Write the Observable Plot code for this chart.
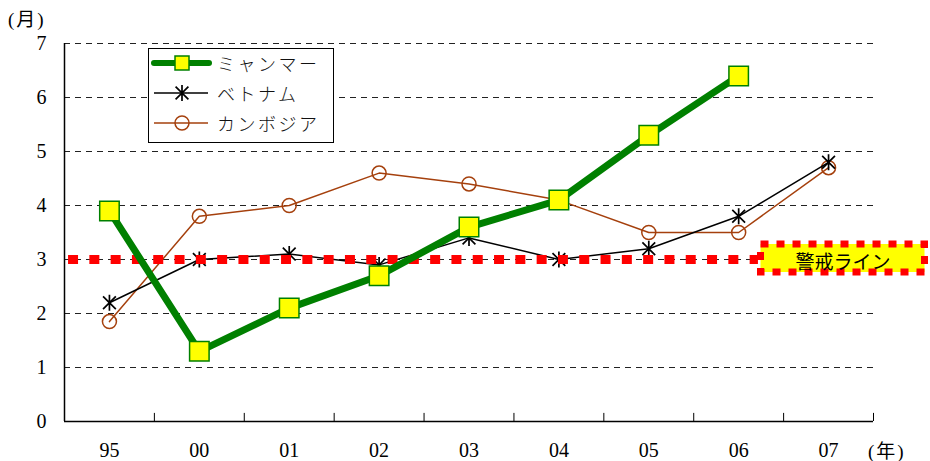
<!DOCTYPE html>
<html>
<head>
<meta charset="utf-8">
<script src="https://cdn.jsdelivr.net/npm/d3@7"></script>
<script src="https://cdn.jsdelivr.net/npm/@observablehq/plot@0.6"></script>
<style>
  html, body { margin: 0; padding: 0; background: #fff; }
  #chart { width: 930px; height: 461px; }
</style>
</head>
<body>
<div id="chart"></div>
<script>
// ---- data ----
const years = ["95", "00", "01", "02", "03", "04", "05", "06", "07"];
const myanmar = [3.9, 1.3, 2.1, 2.7, 3.6, 4.1, 5.3, 6.4, null];
const vietnam = [2.2, 3.0, 3.1, 2.9, 3.4, 3.0, 3.2, 3.8, 4.8];
const cambodia = [1.85, 3.8, 4.0, 4.6, 4.4, 4.1, 3.5, 3.5, 4.7];
const yTicks = [0, 1, 2, 3, 4, 5, 6, 7];
const warningLevel = 3;
const seriesNames = ["ミャンマー", "ベトナム", "カンボジア"];
const warningLabel = "警戒ライン";
const yUnit = "(月)";
const xUnit = "(年)";

const toRows = arr => arr.map((v, i) => ({i, v})).filter(d => d.v != null);
const idx = years.map((_, i) => i);
const boundaries = years.map((_, i) => i + 0.5);

const serif = "'Liberation Serif', 'DejaVu Serif', 'Noto Sans CJK JP', serif";
const cjk = "'Noto Sans CJK JP', sans-serif";

// Excel-style asterisk: X plus a vertical bar
const starSymbol = {
  draw(context, size) {
    const r = Math.sqrt(size / Math.PI);
    const d = r * 0.8;
    context.moveTo(0, -r); context.lineTo(0, r);
    context.moveTo(-d, -d); context.lineTo(d, d);
    context.moveTo(-d, d); context.lineTo(d, -d);
  }
};

const plot = Plot.plot({
  width: 930,
  height: 461,
  marginLeft: 64,
  marginRight: 57,
  marginTop: 43,
  marginBottom: 40,
  style: {fontFamily: serif, fontSize: "20px", background: "white", color: "#000", overflow: "visible"},
  x: {domain: [-0.5, 8.5]},
  y: {domain: [0, 7]},
  marks: [
    Plot.ruleY(yTicks.slice(1), {stroke: "#222", strokeWidth: 1, strokeDasharray: "6,5"}),
    Plot.axisY({ticks: yTicks, tickSize: 0, tickPadding: 18, tickFormat: d => String(d), label: null, fontSize: 20}),
    Plot.axisX({ticks: idx, tickSize: 0, tickPadding: 21, tickFormat: i => years[i], label: null, fontSize: 20}),
    Plot.ruleX([-0.5], {y1: 0, y2: 7, stroke: "#000", strokeWidth: 1.5}),
    Plot.ruleY([0], {x1: -0.5, x2: 8.5, stroke: "#000", strokeWidth: 1.5}),
    Plot.ruleX(boundaries, {y1: 0, y2: 0.15, stroke: "#000", strokeWidth: 1}),
    // cambodia
    Plot.line(toRows(cambodia), {x: "i", y: "v", stroke: "#a5400d", strokeWidth: 1.5}),
    Plot.dot(toRows(cambodia), {x: "i", y: "v", r: 7, stroke: "#a5400d", strokeWidth: 1.5, fill: "none"}),
    // vietnam
    Plot.line(toRows(vietnam), {x: "i", y: "v", stroke: "#000", strokeWidth: 1.5}),
    Plot.dot(toRows(vietnam), {x: "i", y: "v", r: 8, symbol: starSymbol, stroke: "#000", strokeWidth: 1.7}),
    // warning line
    Plot.ruleY([warningLevel], {x1: -0.455, x2: 7.22, stroke: "#ff0000", strokeWidth: 9, strokeDasharray: "10,11.3"}),
    // myanmar
    Plot.line(toRows(myanmar), {x: "i", y: "v", stroke: "#008000", strokeWidth: 7}),
    Plot.dot(toRows(myanmar), {x: "i", y: "v", r: 11, symbol: "square", fill: "#ffff00", stroke: "#008000", strokeWidth: 1.5})
  ]
});

document.getElementById("chart").appendChild(plot);

const svg = d3.select(plot);
const ys = plot.scale("y");

// unit labels
svg.append("text").attr("x", 8).attr("y", 19).attr("text-anchor", "start").attr("dominant-baseline", "central")
  .attr("font-family", serif).attr("font-size", 19).attr("letter-spacing", 2).text(yUnit);
svg.append("text").attr("x", 868).attr("y", 451).attr("text-anchor", "start").attr("dominant-baseline", "central")
  .attr("font-family", serif).attr("font-size", 19).attr("letter-spacing", 2).text(xUnit);

// warning label box
const wy = ys.apply(warningLevel);
const box = svg.append("g");
box.append("rect").attr("x", 760.5).attr("y", wy - 15).attr("width", 164).attr("height", 28)
  .attr("fill", "#ffff00").attr("stroke", "#ff0000").attr("stroke-width", 7).attr("stroke-dasharray", "8,8");
box.append("text").attr("x", 843).attr("y", wy + 1).attr("text-anchor", "middle").attr("dominant-baseline", "central")
  .attr("font-family", cjk).attr("font-size", 19).attr("fill", "#000").text(warningLabel);

// legend
const lg = svg.append("g");
lg.append("rect").attr("x", 148.5).attr("y", 48.5).attr("width", 185).attr("height", 94)
  .attr("fill", "white").attr("stroke", "#000").attr("stroke-width", 1);
const rowsY = [63, 93, 123];
// myanmar
lg.append("line").attr("x1", 154).attr("x2", 209).attr("y1", rowsY[0]).attr("y2", rowsY[0])
  .attr("stroke", "#008000").attr("stroke-width", 6).attr("stroke-linecap", "round");
lg.append("rect").attr("x", 175).attr("y", rowsY[0] - 7).attr("width", 14).attr("height", 14)
  .attr("fill", "#ffff00").attr("stroke", "#008000").attr("stroke-width", 1.5);
// vietnam
lg.append("line").attr("x1", 154).attr("x2", 208).attr("y1", rowsY[1]).attr("y2", rowsY[1])
  .attr("stroke", "#000").attr("stroke-width", 1.5);
lg.append("path").attr("transform", `translate(182,${rowsY[1]})`)
  .attr("d", d3.symbol(starSymbol, 64 * Math.PI)()).attr("stroke", "#000").attr("stroke-width", 1.7).attr("fill", "none");
// cambodia
lg.append("line").attr("x1", 154).attr("x2", 208).attr("y1", rowsY[2]).attr("y2", rowsY[2])
  .attr("stroke", "#a5400d").attr("stroke-width", 1.5);
lg.append("circle").attr("cx", 182).attr("cy", rowsY[2]).attr("r", 7)
  .attr("fill", "none").attr("stroke", "#a5400d").attr("stroke-width", 1.5);
seriesNames.forEach((name, k) => {
  lg.append("text").attr("x", 217).attr("y", rowsY[k]).attr("text-anchor", "start").attr("dominant-baseline", "central")
    .attr("font-family", cjk).attr("font-size", 18).attr("font-weight", 300).attr("letter-spacing", 2.5)
    .attr("fill", "#111").text(name);
});
</script>
</body>
</html>
